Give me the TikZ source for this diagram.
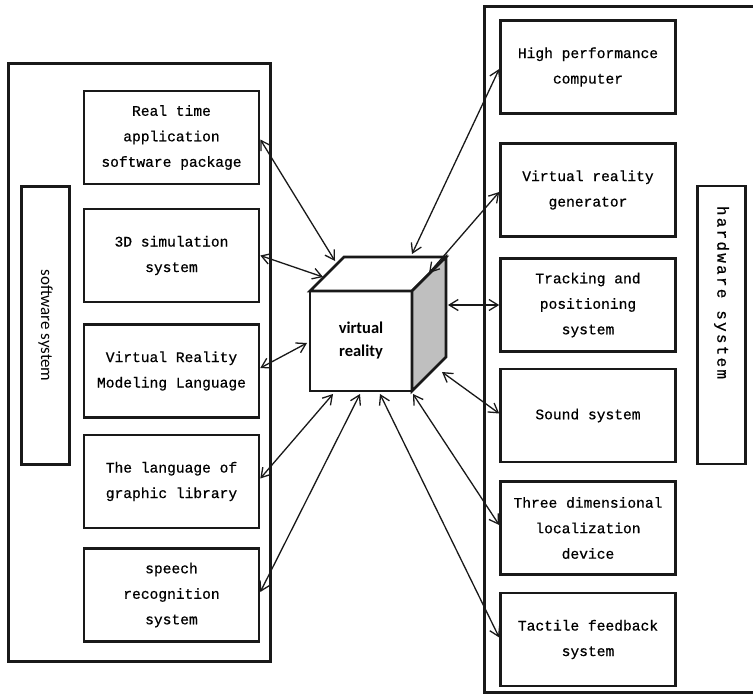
\documentclass[tikz,border=0pt]{standalone}
\usepackage{fontspec}
\usetikzlibrary{arrows.meta}
\newfontfamily\boxfont[FakeBold=0.6]{Liberation Mono}
\newfontfamily\hwfont[LetterSpace=14,FakeBold=0.6]{Liberation Mono}
\newfontfamily\calfont{Carlito}

\begin{document}
\begin{tikzpicture}[x=1pt,y=-1pt,
  frame/.style={draw=black!90, line width=2.6pt},
  unit/.style={frame, minimum width=175pt, minimum height=93pt, inner sep=0pt,
    align=center, font=\boxfont\fontsize{14.6}{25.5}\selectfont},
  sidelabel/.style={frame, rotate=-90, minimum width=278pt, minimum height=48pt, inner sep=0pt},
  link/.style={line width=1.3pt, draw=black!90,
    {Straight Barb[length=9pt,width=11pt]}-{Straight Barb[length=9pt,width=11pt]}},
]
% page
\fill[white] (0,0) rectangle (753,696);
\useasboundingbox (0,0) rectangle (753,696);

% group frames
\node[frame, minimum width=262pt, minimum height=598pt, inner sep=0pt] (swframe) at (139.5,362.5) {};
\node[frame, minimum width=285pt, minimum height=686pt, inner sep=0pt] (hwframe) at (627,349.5) {};

% side labels
\node[sidelabel, font=\calfont\fontsize{17}{20}\selectfont] (swlabel) at (45.5,325.5) {software system};
\node[sidelabel] (hwlabel) at (721.5,325) {};
\node[rotate=-90, inner sep=0pt, font=\hwfont\fontsize{16}{20}\selectfont] (hwtext) at (721.5,292.5) {hardware system};

% software components
\node[unit] (rt)     at (171.5,137.5) {Real time\\application\\software package};
\node[unit] (sim)    at (171.5,255.5) {3D simulation\\system};
\node[unit] (vrml)   at (171.5,371)   {Virtual Reality\\Modeling Language};
\node[unit] (lang)   at (171.5,481.5) {The language of\\graphic library};
\node[unit] (speech) at (171.5,595)   {speech\\recognition\\system};

% hardware components
\node[unit] (hpc)     at (588,67)    {High performance\\computer};
\node[unit] (vrg)     at (588,190)   {Virtual reality\\generator};
\node[unit] (track)   at (588,305)   {Tracking and\\positioning\\system};
\node[unit] (sound)   at (588,415.5) {Sound system};
\node[unit] (three)   at (588,528)   {Three dimensional\\localization\\device};
\node[unit] (tactile) at (588,639.5) {Tactile feedback\\system};

% the cube
\node[frame, outer sep=0pt, inner sep=0pt, minimum width=102pt, minimum height=100pt,
  align=center, font=\calfont\bfseries\fontsize{16.5}{23}\selectfont] (vr) at (361,341) {virtual\\reality};
\draw[frame, fill=white] (vr.north west) -- ++(34,-34) -- ++(102,0) -- (vr.north east) -- cycle;
\draw[frame, fill=black!25] (vr.north east) -- ++(34,-34) -- ++(0,100) -- (vr.south east) -- cycle;
\draw[frame] (vr.north west) rectangle (vr.south east);

% contact points on the cube
\coordinate (vr-rt)      at (335,261);
\coordinate (vr-sim)     at (323,277);
\coordinate (vr-vrml)    at (307,343);
\coordinate (vr-lang)    at (333,394);
\coordinate (vr-speech)  at (360,394);
\coordinate (vr-tactile) at (380,394);
\coordinate (vr-three)   at (413,394);
\coordinate (vr-sound)   at (442,372);
\coordinate (vr-track)   at (448,305);
\coordinate (vr-vrg)     at (429,273);
\coordinate (vr-hpc)     at (412,254);

% links
\draw[link] ([yshift=-2pt]rt.east) -- (vr-rt);
\draw[link] (sim.east) -- (vr-sim);
\draw[link] ([yshift=3pt]vrml.east) -- (vr-vrml);
\draw[link] ([yshift=3pt]lang.east) -- (vr-lang);
\draw[link] ([yshift=3pt]speech.east) -- (vr-speech);
\draw[link] ([yshift=2pt]tactile.west) -- (vr-tactile);
\draw[link] ([yshift=3pt]three.west) -- (vr-three);
\draw[link] ([yshift=2pt]sound.west) -- (vr-sound);
\draw[link] (track.west) -- (vr-track);
\draw[link] ([yshift=-2pt]vrg.west) -- (vr-vrg);
\draw[link] ([yshift=-2pt]hpc.west) -- (vr-hpc);
\end{tikzpicture}
\end{document}
